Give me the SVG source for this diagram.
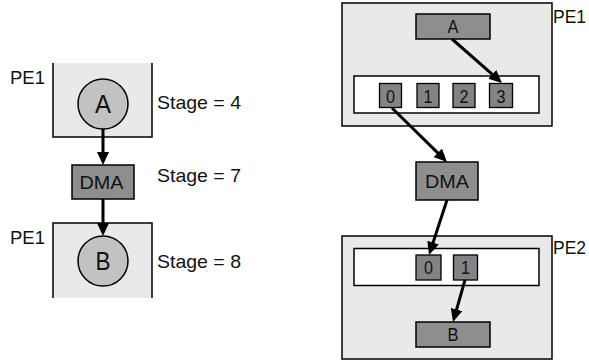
<svg xmlns="http://www.w3.org/2000/svg" width="589" height="362" viewBox="0 0 589 362">
  <defs>
    <marker id="head" markerUnits="userSpaceOnUse" markerWidth="13" markerHeight="12" viewBox="0 0 13 12" refX="5" refY="6" orient="auto">
      <path d="M0,0 L13,6 L0,12 z" fill="#000"/>
    </marker>
    <style>
      text { font-family: "Liberation Sans", Arial, sans-serif; fill: #111; }
      .lbl { font-size: 19px; }
      .in { font-size: 18px; text-anchor: middle; }
      .pe { fill: #e9e9e9; stroke: #000; stroke-width: 1.5; }
      .pefill { fill: #e9e9e9; }
      .edge { stroke: #000; stroke-width: 1.5; fill: none; }
      .buf { fill: #fff; stroke: #000; stroke-width: 1.5; }
      .cell { fill: #838383; stroke: #000; stroke-width: 1.3; }
      .blk { fill: #8e8e8e; stroke: #000; stroke-width: 1.5; }
      .task { fill: #c2c2c2; stroke: #000; stroke-width: 1.5; }
      .conn { stroke: #000; stroke-width: 3; fill: none; marker-end: url(#head); }
    </style>
  </defs>

  <!-- Left: staged schedule -->
  <g id="pe1-left">
    <rect class="pefill" x="53" y="63" width="99" height="74"/>
    <path class="edge" d="M53,63 V137 H152 V63"/>
    <text class="lbl" x="10" y="84" textLength="35" lengthAdjust="spacingAndGlyphs">PE1</text>
  </g>
  <g id="taskA-left">
    <circle class="task" cx="103" cy="104" r="25"/>
    <text class="in" x="103" y="113" style="font-size:25px" textLength="16" lengthAdjust="spacingAndGlyphs">A</text>
  </g>
  <g id="dma-left">
    <rect class="blk" x="72" y="165" width="62" height="34"/>
    <text class="in" x="101.5" y="189" textLength="44" lengthAdjust="spacingAndGlyphs">DMA</text>
  </g>
  <g id="pe1b-left">
    <rect class="pefill" x="53" y="223" width="99" height="75"/>
    <path class="edge" d="M53,298 V223 H152 V298"/>
    <text class="lbl" x="10" y="244" textLength="35" lengthAdjust="spacingAndGlyphs">PE1</text>
  </g>
  <g id="taskB-left">
    <circle class="task" cx="103" cy="261" r="25"/>
    <text class="in" x="103" y="270" style="font-size:25px" textLength="15" lengthAdjust="spacingAndGlyphs">B</text>
  </g>
  <g id="stages">
    <text class="lbl" x="157" y="109" textLength="84" lengthAdjust="spacingAndGlyphs">Stage = 4</text>
    <text class="lbl" x="157" y="182" textLength="84" lengthAdjust="spacingAndGlyphs">Stage = 7</text>
    <text class="lbl" x="157" y="268" textLength="84" lengthAdjust="spacingAndGlyphs">Stage = 8</text>
  </g>

  <!-- Right: buffered transfer -->
  <g id="pe1-right">
    <rect class="pe" x="342" y="3" width="210" height="123"/>
    <text class="lbl" x="553" y="23" textLength="33" lengthAdjust="spacingAndGlyphs">PE1</text>
  </g>
  <g id="taskA-right">
    <rect class="blk" x="416" y="14" width="74" height="25"/>
    <text class="in" x="453" y="33" textLength="11" lengthAdjust="spacingAndGlyphs">A</text>
  </g>
  <g id="outbuf">
    <rect class="buf" x="354" y="76" width="185" height="37"/>
    <rect class="cell" x="379.5" y="83.5" width="22" height="24"/>
    <text class="in" x="390.5" y="102.5" textLength="9" lengthAdjust="spacingAndGlyphs">0</text>
    <rect class="cell" x="417" y="83.5" width="22" height="24"/>
    <text class="in" x="428" y="102.5" textLength="9" lengthAdjust="spacingAndGlyphs">1</text>
    <rect class="cell" x="453" y="83.5" width="22" height="24"/>
    <text class="in" x="464" y="102.5" textLength="9" lengthAdjust="spacingAndGlyphs">2</text>
    <rect class="cell" x="489.5" y="83.5" width="23" height="24"/>
    <text class="in" x="501" y="102.5" textLength="9" lengthAdjust="spacingAndGlyphs">3</text>
  </g>
  <g id="dma-right">
    <rect class="blk" x="416" y="162" width="62" height="38"/>
    <text class="in" x="447" y="188" textLength="44" lengthAdjust="spacingAndGlyphs">DMA</text>
  </g>
  <g id="pe2-right">
    <rect class="pe" x="342" y="236" width="210" height="123"/>
    <text class="lbl" x="553" y="254" textLength="33" lengthAdjust="spacingAndGlyphs">PE2</text>
  </g>
  <g id="inbuf">
    <rect class="buf" x="354" y="248.5" width="185" height="37"/>
    <rect class="cell" x="416" y="255" width="25" height="25"/>
    <text class="in" x="428.5" y="274" textLength="9" lengthAdjust="spacingAndGlyphs">0</text>
    <rect class="cell" x="453.5" y="255" width="24" height="25"/>
    <text class="in" x="465.5" y="274" textLength="9" lengthAdjust="spacingAndGlyphs">1</text>
  </g>
  <g id="taskB-right">
    <rect class="blk" x="416" y="322" width="74" height="25"/>
    <text class="in" x="453" y="341" textLength="11" lengthAdjust="spacingAndGlyphs">B</text>
  </g>

  <g id="connectors">
    <line class="conn" x1="103" y1="129" x2="103" y2="157"/>
    <line class="conn" x1="103" y1="199" x2="103" y2="228"/>
    <line class="conn" x1="452" y1="39" x2="496" y2="77.7"/>
    <line class="conn" x1="392" y1="108" x2="441.3" y2="156.4"/>
    <line class="conn" x1="447" y1="200" x2="431.5" y2="247.4"/>
    <line class="conn" x1="465" y1="280" x2="455.2" y2="314.3"/>
  </g>
</svg>
